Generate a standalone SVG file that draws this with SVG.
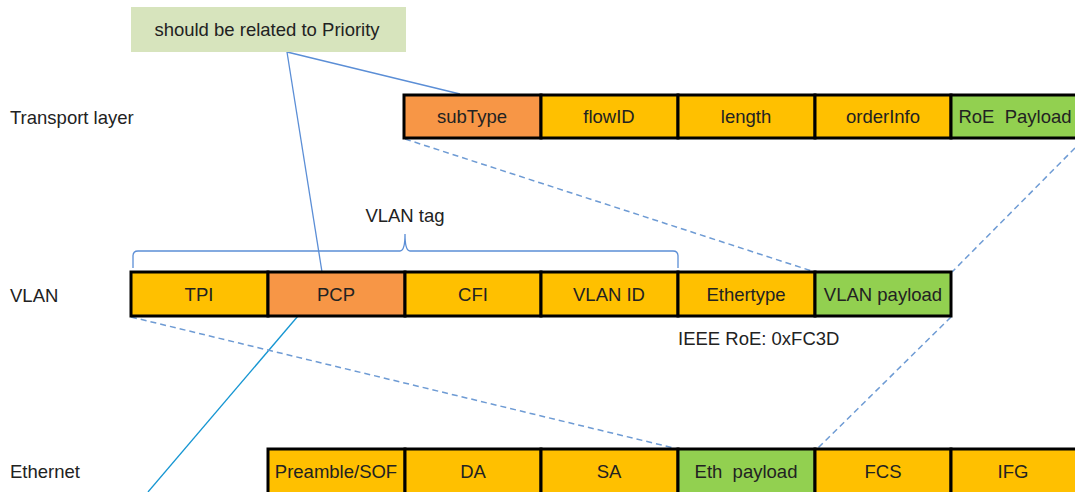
<svg xmlns="http://www.w3.org/2000/svg" width="1075" height="492" viewBox="0 0 1075 492">
<style>
text{font-family:"Liberation Sans",Arial,sans-serif;font-size:18.5px;fill:#222}
.c{text-anchor:middle}
.f{stroke:#000;stroke-width:3}
.y{fill:#ffc000}.o{fill:#f79646}.g{fill:#92d050}
.dash{stroke:#6e9bd4;stroke-width:1.5;stroke-dasharray:6 4;fill:none}
.sol{stroke:#5b8ed6;stroke-width:1.3;fill:none}
</style>
<rect width="1075" height="492" fill="#fff"/>
<g id="connectors">
<line class="sol" x1="287" y1="52" x2="460" y2="94"/>
<line class="sol" x1="287" y1="52" x2="322" y2="272"/>
<line x1="298" y1="316" x2="148" y2="492" stroke="#1696d2" stroke-width="1.3"/>
<line class="dash" x1="405" y1="139" x2="815" y2="272"/>
<line class="dash" x1="1075" y1="148" x2="952" y2="272"/>
<line class="dash" x1="131" y1="317" x2="678" y2="449"/>
<line class="dash" x1="951" y1="317" x2="817" y2="449"/>
<path class="sol" d="M133,268 V256 Q133,251 138,251 H400 Q405,251 405,234 Q405,251 410,251 H673 Q678,251 678,256 V268"/>
</g>
<g id="note"><rect x="131" y="7" width="275" height="45" fill="#d7e4bd"/><text class="c" x="267" y="36">should be related to Priority</text></g>
<g id="labels">
<text x="10" y="124">Transport layer</text>
<text x="10" y="302">VLAN</text>
<text x="10" y="478">Ethernet</text>
<text class="c" x="405" y="222">VLAN tag</text>
<text x="678" y="345">IEEE RoE: 0xFC3D</text>
</g>
<g id="transport">
<rect class="f o" x="404" y="95" width="137" height="43"/><text class="c" x="472" y="123">subType</text>
<rect class="f y" x="541" y="95" width="137" height="43"/><text class="c" x="609" y="123">flowID</text>
<rect class="f y" x="678" y="95" width="137" height="43"/><text class="c" x="746" y="123">length</text>
<rect class="f y" x="815" y="95" width="136" height="43"/><text class="c" x="883" y="123">orderInfo</text>
<rect class="f g" x="951" y="95" width="130" height="43"/><text class="c" x="1015" y="123" xml:space="preserve">RoE  Payload</text>
</g>
<g id="vlan">
<rect class="f y" x="131" y="272" width="137" height="44"/><text class="c" x="199" y="301">TPI</text>
<rect class="f o" x="268" y="272" width="137" height="44"/><text class="c" x="336" y="301">PCP</text>
<rect class="f y" x="405" y="272" width="136" height="44"/><text class="c" x="473" y="301">CFI</text>
<rect class="f y" x="541" y="272" width="137" height="44"/><text class="c" x="609" y="301">VLAN ID</text>
<rect class="f y" x="678" y="272" width="137" height="44"/><text class="c" x="746" y="301">Ethertype</text>
<rect class="f g" x="815" y="272" width="136" height="44"/><text class="c" x="883" y="301">VLAN payload</text>
</g>
<g id="ethernet">
<rect class="f y" x="268" y="449" width="137" height="50"/><text class="c" x="336" y="478">Preamble/SOF</text>
<rect class="f y" x="405" y="449" width="136" height="50"/><text class="c" x="473" y="478">DA</text>
<rect class="f y" x="541" y="449" width="137" height="50"/><text class="c" x="609" y="478">SA</text>
<rect class="f g" x="678" y="449" width="137" height="50"/><text class="c" x="746" y="478" xml:space="preserve">Eth  payload</text>
<rect class="f y" x="815" y="449" width="136" height="50"/><text class="c" x="883" y="478">FCS</text>
<rect class="f y" x="951" y="449" width="130" height="50"/><text class="c" x="1013" y="478">IFG</text>
</g>
</svg>
